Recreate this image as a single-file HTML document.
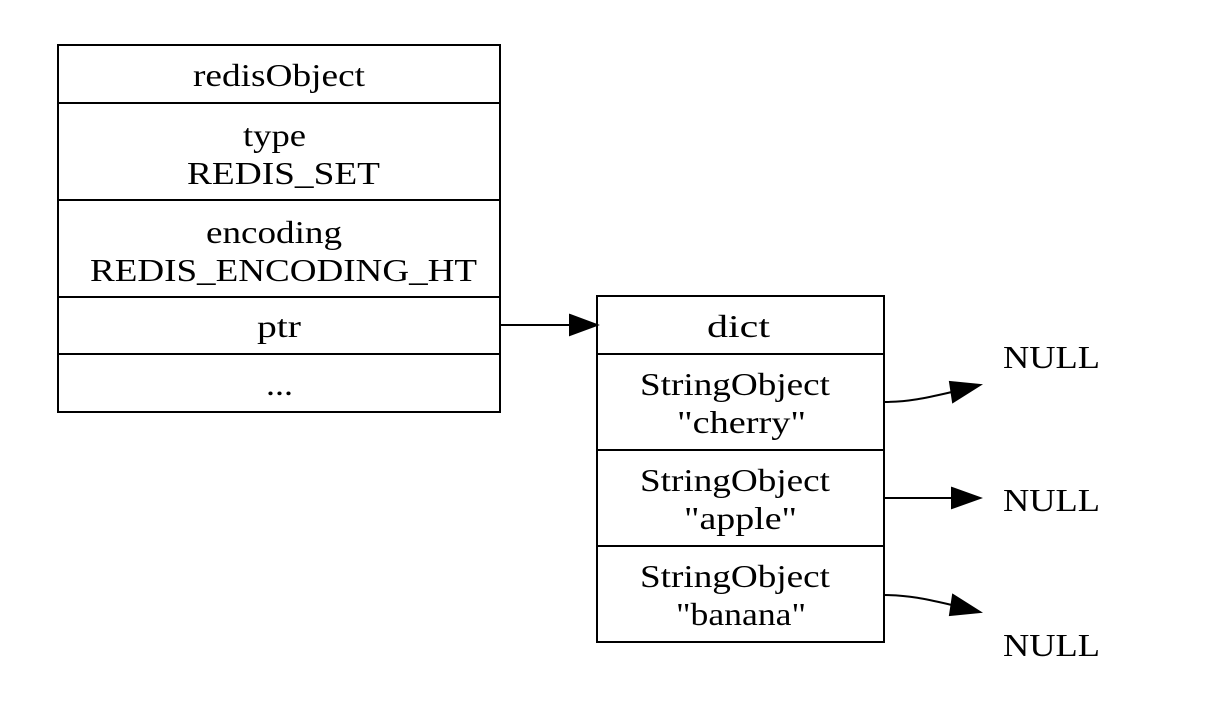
<!DOCTYPE html>
<html><head><style>
html,body{margin:0;padding:0;background:#fff;}
svg text{font-family:"Liberation Serif",serif;font-size:32px;fill:#000;}
</style></head><body>
<svg width="1214" height="720" viewBox="0 0 1214 720" xmlns="http://www.w3.org/2000/svg">
<g fill="none" stroke="#000" stroke-width="2">
<rect x="58" y="45" width="442" height="367"/>
<line x1="58" y1="103" x2="500" y2="103"/>
<line x1="58" y1="200" x2="500" y2="200"/>
<line x1="58" y1="297" x2="500" y2="297"/>
<line x1="58" y1="354" x2="500" y2="354"/>
<rect x="597" y="296" width="287" height="346"/>
<line x1="597" y1="354" x2="884" y2="354"/>
<line x1="597" y1="450" x2="884" y2="450"/>
<line x1="597" y1="546" x2="884" y2="546"/>
<path d="M500 325 L570 325"/>
<path d="M884 402 C910 402 930 397 952 392"/>
<path d="M884 498 L952 498"/>
<path d="M884 595 C910 595 930 600 952 605"/>
</g>
<g fill="#000" stroke="#000" stroke-width="2">
<polygon points="570,315 597,325 570,335"/>
<polygon points="950,382 980,385 953,402"/>
<polygon points="952,488 980,498 952,508"/>
<polygon points="953,595 980,612 950,615"/>
</g>
<g lengthAdjust="spacingAndGlyphs">
<text x="193" y="86" textLength="172" lengthAdjust="spacingAndGlyphs">redisObject</text>
<text x="243" y="146" textLength="63" lengthAdjust="spacingAndGlyphs">type</text>
<text x="187" y="184" textLength="193" lengthAdjust="spacingAndGlyphs">REDIS_SET</text>
<text x="206" y="243" textLength="136" lengthAdjust="spacingAndGlyphs">encoding</text>
<text x="90" y="281" textLength="387" lengthAdjust="spacingAndGlyphs">REDIS_ENCODING_HT</text>
<text x="257" y="337" textLength="44" lengthAdjust="spacingAndGlyphs">ptr</text>
<text x="266" y="395" textLength="27" lengthAdjust="spacingAndGlyphs">...</text>
<text x="707" y="337" textLength="63" lengthAdjust="spacingAndGlyphs">dict</text>
<text x="640" y="395" textLength="190" lengthAdjust="spacingAndGlyphs">StringObject</text>
<text x="677" y="433" textLength="129" lengthAdjust="spacingAndGlyphs">"cherry"</text>
<text x="640" y="491" textLength="190" lengthAdjust="spacingAndGlyphs">StringObject</text>
<text x="684" y="529" textLength="113" lengthAdjust="spacingAndGlyphs">"apple"</text>
<text x="640" y="587" textLength="190" lengthAdjust="spacingAndGlyphs">StringObject</text>
<text x="676" y="625" textLength="130" lengthAdjust="spacingAndGlyphs">"banana"</text>
<text x="1003" y="368" textLength="97" lengthAdjust="spacingAndGlyphs">NULL</text>
<text x="1003" y="511" textLength="97" lengthAdjust="spacingAndGlyphs">NULL</text>
<text x="1003" y="656" textLength="97" lengthAdjust="spacingAndGlyphs">NULL</text>
</g>
</svg>
</body></html>
